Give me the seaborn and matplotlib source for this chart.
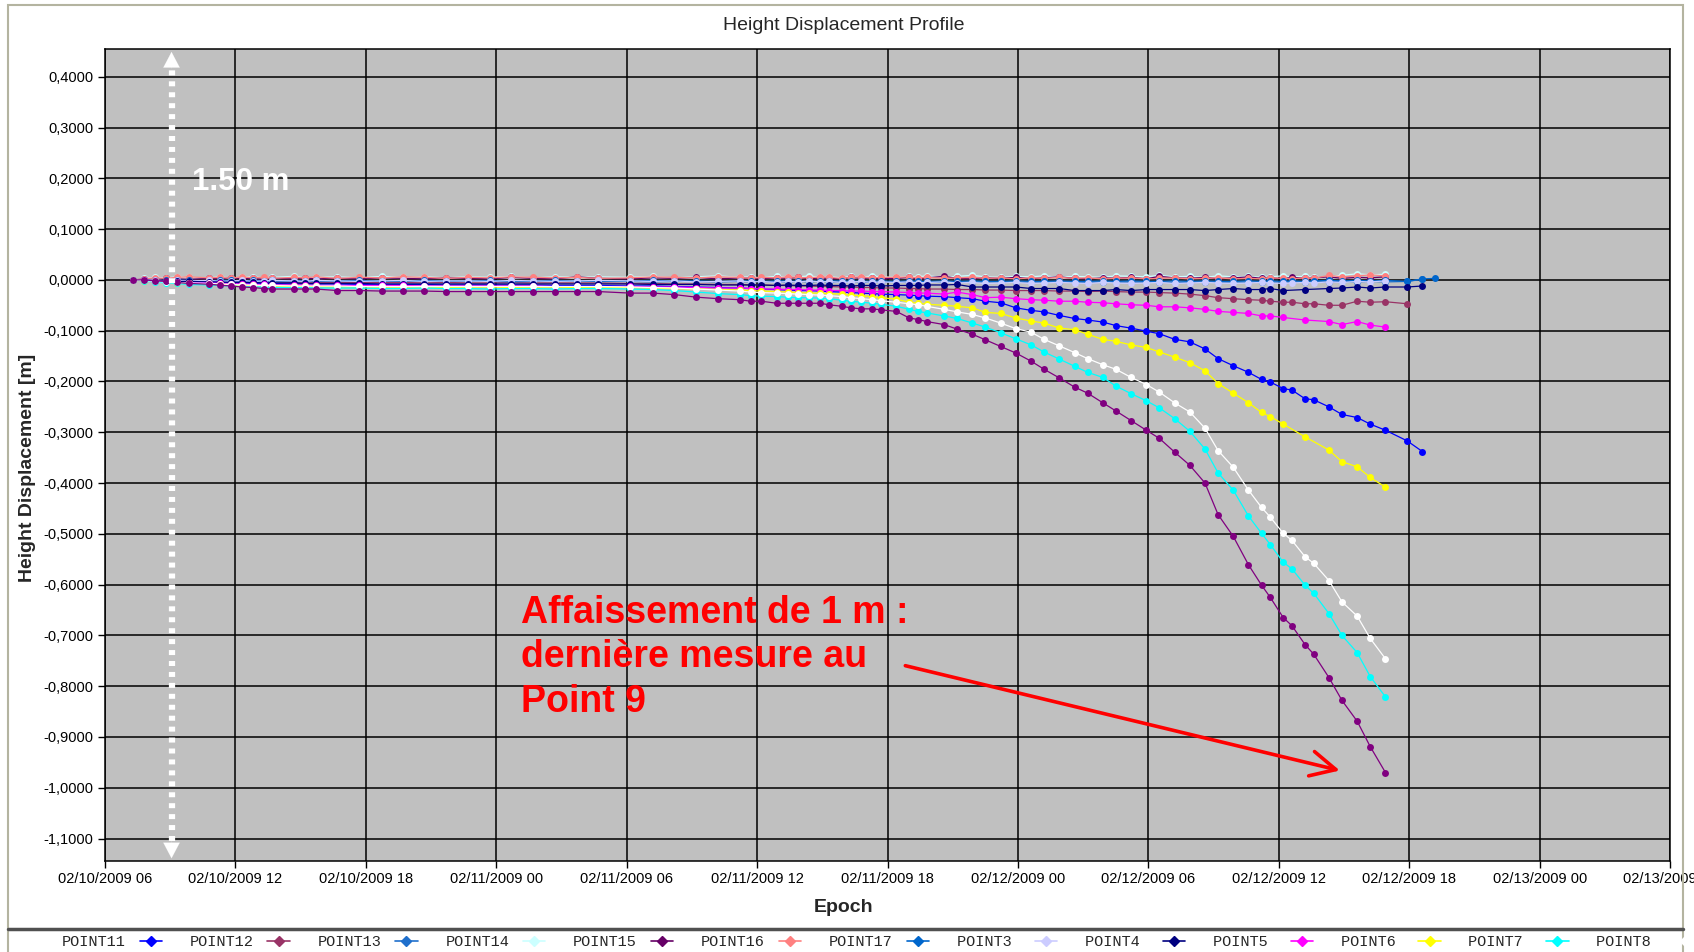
import numpy as np
import pandas as pd
import matplotlib
matplotlib.use("Agg")
import matplotlib.pyplot as plt
import matplotlib.dates as mdates
from matplotlib.lines import Line2D
from matplotlib.patches import Rectangle
from matplotlib.ticker import FuncFormatter
import seaborn as sns

nan = np.nan

# epochs (month/day hour:minute, 2009)
epoch = ["02/10 07:18", "02/10 07:48", "02/10 08:18", "02/10 08:48", "02/10 09:18", "02/10 09:51",
         "02/10 10:48", "02/10 11:18", "02/10 11:48", "02/10 12:18", "02/10 12:48", "02/10 13:18",
         "02/10 13:42", "02/10 14:42", "02/10 15:12", "02/10 15:42", "02/10 16:42", "02/10 17:42",
         "02/10 18:45", "02/10 19:42", "02/10 20:42", "02/10 21:42", "02/10 22:42", "02/10 23:42",
         "02/11 00:42", "02/11 01:42", "02/11 02:42", "02/11 03:42", "02/11 04:42",
         "02/11 06:09", "02/11 07:12", "02/11 08:12", "02/11 09:12", "02/11 10:12", "02/11 11:12",
         "02/11 11:42", "02/11 12:12", "02/11 12:54", "02/11 13:24", "02/11 13:54", "02/11 14:24",
         "02/11 14:54", "02/11 15:18", "02/11 15:54", "02/11 16:18", "02/11 16:48", "02/11 17:18",
         "02/11 17:42",
         "02/11 18:24", "02/11 19:00", "02/11 19:24", "02/11 19:48", "02/11 20:36", "02/11 21:12",
         "02/11 21:54", "02/11 22:30", "02/11 23:12", "02/11 23:54", "02/12 00:36", "02/12 01:12",
         "02/12 01:54", "02/12 02:36", "02/12 03:12", "02/12 03:54", "02/12 04:30", "02/12 05:12",
         "02/12 05:54", "02/12 06:30", "02/12 07:12", "02/12 07:54", "02/12 08:36", "02/12 09:12",
         "02/12 09:54", "02/12 10:36", "02/12 11:12", "02/12 11:36", "02/12 12:12", "02/12 12:36",
         "02/12 13:12", "02/12 13:36", "02/12 14:18", "02/12 14:54", "02/12 15:36", "02/12 16:12",
         "02/12 16:54",
         "02/12 17:54", "02/12 18:36", "02/12 19:12"]

# height displacement [m] per point
point11 = [0.000, -0.001, -0.002, -0.003, -0.004, -0.004, -0.005, -0.005, -0.006, -0.006, -0.007, -0.007,
           -0.007, -0.008, -0.008, -0.008, -0.008, -0.009, -0.009, -0.009, -0.009, -0.010, -0.010, -0.010,
           -0.010, -0.010, -0.011, -0.011, -0.011,
           -0.012, -0.012, -0.013, -0.014, -0.015, -0.016, -0.017, -0.018, -0.019, -0.020, -0.021, -0.021,
           -0.022, -0.023, -0.024, -0.025, -0.026, -0.027, -0.028,
           -0.029, -0.030, -0.031, -0.032, -0.033, -0.035, -0.037, -0.042, -0.045, -0.055, -0.060, -0.063,
           -0.070, -0.076, -0.079, -0.083, -0.090, -0.095, -0.101, -0.106, -0.117, -0.122, -0.136, -0.155,
           -0.169, -0.182, -0.196, -0.201, -0.214, -0.217, -0.234, -0.236, -0.250, -0.265, -0.271, -0.284,
           -0.296,
           -0.317, -0.338, nan]
point12 = [0.000, 0.000, -0.001, -0.001, -0.002, -0.002, -0.003, -0.003, -0.003, -0.004, -0.004, -0.004,
           -0.004, -0.005, -0.004, -0.005, -0.005, -0.005, -0.005, -0.005, -0.006, -0.005, -0.006, -0.006,
           -0.005, -0.006, -0.006, -0.006, -0.006,
           -0.007, -0.007, -0.008, -0.008, -0.009, -0.009, -0.010, -0.010, -0.011, -0.011, -0.012, -0.012,
           -0.013, -0.013, -0.014, -0.014, -0.015, -0.015, -0.016,
           -0.016, -0.017, -0.017, -0.018, -0.018, -0.019, -0.019, -0.020, -0.020, -0.021, -0.021, -0.021,
           -0.022, -0.022, -0.023, -0.022, -0.023, -0.024, -0.024, -0.025, -0.026, -0.028, -0.031, -0.035,
           -0.037, -0.039, -0.040, -0.042, -0.044, -0.044, -0.047, -0.047, -0.050, -0.050, -0.042, -0.044,
           -0.043,
           -0.047, nan, nan]
point13 = [0.000, -0.001, -0.001, -0.002, -0.002, -0.001, -0.002, -0.003, -0.002, -0.002, -0.003, -0.002,
           -0.003, -0.002, -0.003, -0.003, -0.002, -0.003, -0.003, -0.002, -0.003, -0.003, -0.002, -0.003,
           -0.004, -0.003, -0.003, -0.002, -0.003,
           -0.003, -0.004, -0.003, -0.003, -0.004, -0.003, -0.004, -0.003, -0.004, -0.004, -0.003, -0.004,
           -0.003, -0.004, -0.004, -0.003, -0.004, -0.005, -0.004,
           -0.004, -0.005, -0.004, -0.004, -0.005, -0.004, -0.005, -0.004, -0.004, -0.005, -0.004, -0.005,
           -0.004, -0.005, -0.005, -0.004, -0.005, -0.004, -0.005, -0.004, -0.005, -0.005, -0.004, -0.005,
           -0.004, -0.005, -0.004, -0.005, -0.004, -0.004, -0.005, -0.004, -0.004, -0.003, -0.004, -0.003,
           -0.004,
           -0.003, 0.001, nan]
point14 = [0.000, 0.003, 0.005, 0.004, 0.006, 0.005, 0.004, 0.006, 0.003, 0.005, 0.006, 0.004,
           0.005, 0.007, 0.004, 0.005, 0.006, 0.004, 0.007, 0.005, 0.006, 0.004, 0.006, 0.005,
           0.007, 0.004, 0.006, 0.005, 0.006,
           0.005, 0.007, 0.004, 0.006, 0.008, 0.005, 0.006, 0.004, 0.007, 0.005, 0.006, 0.008,
           0.005, 0.006, 0.004, 0.007, 0.005, 0.008, 0.006,
           0.005, 0.007, 0.006, 0.008, 0.005, 0.007, 0.009, 0.006, 0.005, 0.007, 0.006, 0.008,
           0.005, 0.007, 0.006, 0.005, 0.008, 0.007, 0.006, 0.009, 0.006, 0.007, 0.005, 0.008,
           0.006, 0.007, 0.005, 0.006, 0.008, 0.006, 0.007, 0.005, 0.006, 0.009, 0.012, 0.010,
           0.011,
           nan, nan, nan]
point15 = [0.000, 0.002, 0.001, 0.003, 0.002, 0.001, 0.003, 0.002, 0.004, 0.002, 0.003, 0.001,
           0.003, 0.002, 0.004, 0.002, 0.003, 0.002, 0.004, 0.003, 0.002, 0.004, 0.003, 0.002,
           0.005, 0.003, 0.002, 0.006, 0.003,
           0.002, 0.004, 0.003, 0.005, 0.002, 0.004, 0.003, 0.002, 0.004, 0.003, 0.005, 0.002,
           0.004, 0.003, 0.002, 0.005, 0.003, 0.004, 0.002,
           0.003, 0.005, 0.002, 0.004, 0.007, 0.003, 0.002, 0.004, 0.003, 0.005, 0.002, 0.004,
           0.006, 0.003, 0.002, 0.004, 0.003, 0.005, 0.002, 0.007, 0.004, 0.003, 0.005, 0.002,
           0.004, 0.006, 0.003, 0.004, 0.002, 0.005, 0.003, 0.004, 0.006, 0.003, 0.005, 0.004,
           0.006,
           nan, nan, nan]
point16 = [0.000, 0.002, 0.004, 0.003, 0.005, 0.006, 0.004, 0.005, 0.003, 0.006, 0.004, 0.005,
           0.003, 0.005, 0.004, 0.006, 0.003, 0.005, 0.004, 0.006, 0.005, 0.003, 0.005, 0.004,
           0.006, 0.005, 0.004, 0.005, 0.003,
           0.004, 0.006, 0.005, 0.004, 0.006, 0.005, 0.003, 0.005, 0.004, 0.006, 0.005, 0.004,
           0.006, 0.005, 0.003, 0.005, 0.006, 0.004, 0.005,
           0.005, 0.006, 0.004, 0.005, 0.003, 0.004, 0.005, 0.003, 0.004, 0.002, 0.004, 0.003,
           0.005, 0.003, 0.004, 0.002, 0.003, 0.004, 0.002, 0.003, 0.004, 0.002, 0.003, 0.004,
           0.002, 0.003, 0.002, 0.004, 0.003, 0.002, 0.004, 0.003, 0.009, 0.006, 0.008, 0.010,
           0.008,
           nan, nan, nan]
point17 = [0.000, 0.000, -0.001, -0.001, 0.000, -0.001, -0.002, -0.001, -0.001, -0.002, -0.001, -0.002,
           -0.001, -0.002, -0.002, -0.001, -0.002, -0.001, -0.002, -0.002, -0.001, -0.002, -0.002, -0.001,
           -0.002, -0.002, -0.001, -0.002, -0.002,
           -0.002, -0.001, -0.002, -0.002, -0.003, -0.002, -0.002, -0.003, -0.002, -0.002, -0.003, -0.002,
           -0.003, -0.002, -0.002, -0.003, -0.002, -0.003, -0.002,
           -0.003, -0.002, -0.003, -0.003, -0.002, -0.003, -0.002, -0.003, -0.003, -0.002, -0.003, -0.003,
           -0.002, -0.003, -0.003, -0.002, -0.003, -0.002, -0.003, -0.003, -0.002, -0.003, -0.002, -0.003,
           -0.003, -0.002, -0.003, -0.002, -0.003, -0.002, -0.003, -0.002, -0.001, -0.002, -0.001, -0.002,
           -0.001,
           -0.003, 0.002, 0.003]
point3 = [0.000, -0.001, 0.000, -0.002, -0.001, -0.002, -0.001, -0.003, -0.002, -0.001, -0.003, -0.002,
          -0.001, -0.002, -0.003, -0.001, -0.002, -0.003, -0.002, -0.001, -0.003, -0.002, -0.002, -0.003,
          -0.001, -0.002, -0.003, -0.002, -0.001,
          -0.002, -0.003, -0.002, -0.004, -0.003, -0.002, -0.004, -0.003, -0.005, -0.003, -0.004, -0.002,
          -0.004, -0.003, -0.005, -0.004, -0.003, -0.005, -0.004,
          -0.005, -0.004, -0.006, -0.005, -0.004, -0.006, -0.005, -0.007, -0.006, -0.005, -0.007, -0.006,
          -0.005, -0.006, -0.007, -0.005, -0.006, -0.007, -0.006, -0.005, -0.007, -0.006, -0.005, -0.006,
          -0.007, -0.006, -0.005, -0.006, -0.007, -0.006, -0.005, -0.006, -0.004, -0.005, -0.003, -0.004,
          -0.002,
          nan, nan, nan]
point4 = [0.000, -0.001, -0.002, -0.002, -0.003, -0.003, -0.004, -0.004, -0.005, -0.005, -0.005, -0.006,
          -0.006, -0.006, -0.007, -0.007, -0.007, -0.007, -0.008, -0.008, -0.008, -0.008, -0.008, -0.008,
          -0.008, -0.008, -0.008, -0.008, -0.008,
          -0.008, -0.009, -0.009, -0.009, -0.010, -0.010, -0.010, -0.010, -0.011, -0.010, -0.011, -0.011,
          -0.010, -0.011, -0.011, -0.012, -0.011, -0.011, -0.012,
          -0.011, -0.011, -0.011, -0.010, -0.010, -0.009, -0.014, -0.014, -0.014, -0.014, -0.017, -0.017,
          -0.017, -0.021, -0.021, -0.021, -0.019, -0.021, -0.019, -0.019, -0.019, -0.019, -0.021, -0.019,
          -0.017, -0.019, -0.019, -0.017, -0.021, nan, -0.019, nan, -0.017, -0.016, -0.014, -0.016,
          -0.014,
          -0.014, -0.012, nan]
point5 = [0.000, -0.001, -0.002, -0.004, -0.005, -0.006, -0.006, -0.007, -0.008, -0.008, -0.009, -0.009,
          -0.010, -0.010, -0.010, -0.011, -0.011, -0.011, -0.011, -0.011, -0.012, -0.012, -0.012, -0.012,
          -0.012, -0.012, -0.013, -0.013, -0.013,
          -0.013, -0.014, -0.014, -0.015, -0.016, -0.016, -0.017, -0.018, -0.018, -0.019, -0.019, -0.020,
          -0.020, -0.021, -0.021, -0.022, -0.022, -0.023, -0.023,
          -0.024, -0.025, -0.026, -0.026, -0.028, -0.024, -0.029, -0.035, -0.034, -0.037, -0.039, -0.040,
          -0.042, -0.042, -0.044, -0.045, -0.047, -0.049, -0.050, -0.053, -0.053, -0.055, -0.058, -0.062,
          -0.064, -0.066, -0.071, -0.071, -0.074, nan, -0.079, nan, -0.082, -0.088, -0.082, -0.089,
          -0.093,
          nan, nan, nan]
point6 = [0.000, -0.002, -0.003, -0.005, -0.006, -0.007, -0.008, -0.009, -0.010, -0.011, -0.011, -0.012,
          -0.012, -0.013, -0.013, -0.013, -0.014, -0.014, -0.014, -0.014, -0.014, -0.015, -0.014, -0.014,
          -0.015, -0.014, -0.014, -0.015, -0.014,
          -0.015, -0.016, -0.017, -0.018, -0.019, -0.020, -0.021, -0.022, -0.023, -0.024, -0.025, -0.026,
          -0.026, -0.027, -0.028, -0.030, -0.031, -0.033, -0.035,
          -0.038, -0.044, -0.046, -0.048, -0.050, -0.052, -0.055, -0.064, -0.066, -0.075, -0.081, -0.085,
          -0.095, -0.098, -0.107, -0.117, -0.121, -0.128, -0.133, -0.142, -0.152, -0.163, -0.179, -0.204,
          -0.223, -0.242, -0.261, -0.269, -0.284, nan, -0.309, nan, -0.335, -0.358, -0.368, -0.389,
          -0.408,
          nan, nan, nan]
point7 = [0.000, -0.002, -0.004, -0.006, -0.007, -0.009, -0.010, -0.011, -0.012, -0.013, -0.014, -0.014,
          -0.015, -0.015, -0.015, -0.016, -0.016, -0.016, -0.017, -0.017, -0.016, -0.017, -0.017, -0.018,
          -0.017, -0.017, -0.018, -0.017, -0.017,
          -0.018, -0.019, -0.021, -0.024, -0.027, -0.029, -0.031, -0.032, -0.033, -0.034, -0.035, -0.035,
          -0.036, -0.037, -0.040, -0.042, -0.044, -0.046, -0.048,
          -0.052, -0.058, -0.062, -0.065, -0.071, -0.076, -0.085, -0.093, -0.104, -0.116, -0.128, -0.142,
          -0.156, -0.170, -0.182, -0.192, -0.209, -0.224, -0.238, -0.252, -0.273, -0.298, -0.333, -0.380,
          -0.414, -0.465, -0.499, -0.521, -0.556, -0.569, -0.601, -0.617, -0.657, -0.700, -0.734, -0.781,
          -0.821,
          nan, nan, nan]
point8 = [0.000, -0.001, -0.003, -0.004, -0.005, -0.006, -0.007, -0.008, -0.009, -0.010, -0.010, -0.011,
          -0.011, -0.012, -0.012, -0.012, -0.012, -0.013, -0.013, -0.013, -0.013, -0.013, -0.013, -0.013,
          -0.013, -0.013, -0.013, -0.013, -0.013,
          -0.014, -0.015, -0.016, -0.018, -0.020, -0.022, -0.024, -0.025, -0.026, -0.027, -0.028, -0.029,
          -0.030, -0.031, -0.033, -0.035, -0.037, -0.039, -0.041,
          -0.044, -0.047, -0.049, -0.052, -0.058, -0.063, -0.068, -0.075, -0.085, -0.096, -0.103, -0.117,
          -0.130, -0.143, -0.155, -0.167, -0.176, -0.192, -0.206, -0.221, -0.242, -0.260, -0.292, -0.336,
          -0.369, -0.414, -0.448, -0.467, -0.499, -0.513, -0.545, -0.558, -0.592, -0.634, -0.662, -0.706,
          -0.746,
          nan, nan, nan]
point9 = [0.000, 0.000, -0.002, -0.003, -0.005, -0.007, -0.0085, -0.0105, -0.012, -0.014, -0.015, -0.017,
          -0.018, -0.018, -0.018, -0.018, -0.021, -0.021, -0.022, -0.022, -0.022, -0.023, -0.023, -0.023,
          -0.023, -0.023, -0.023, -0.023, -0.023,
          -0.026, -0.026, -0.029, -0.034, -0.037, -0.039, -0.042, -0.042, -0.046, -0.046, -0.046, -0.046,
          -0.046, -0.049, -0.052, -0.055, -0.057, -0.057, -0.059,
          -0.062, -0.075, -0.078, -0.082, -0.088, -0.097, -0.107, -0.118, -0.131, -0.144, -0.160, -0.176,
          -0.193, -0.211, -0.223, -0.242, -0.258, -0.277, -0.296, -0.312, -0.339, -0.365, -0.400, -0.462,
          -0.505, -0.561, -0.601, -0.625, -0.665, -0.681, -0.718, -0.737, -0.783, -0.828, -0.869, -0.919,
          -0.970,
          nan, nan, nan]

points = ["POINT11", "POINT12", "POINT13", "POINT14", "POINT15", "POINT16", "POINT17",
          "POINT3", "POINT4", "POINT5", "POINT6", "POINT7", "POINT8", "POINT9"]
colors = ["#0000FF", "#993366", "#1F6FCC", "#CCFFFF", "#660066", "#FF8080", "#0066CC",
          "#CCCCFF", "#000080", "#FF00FF", "#FFFF00", "#00FFFF", "#FFFFFF", "#800080"]
legend_points = points[:13]

times = pd.to_datetime(["2009/" + e for e in epoch], format="%Y/%m/%d %H:%M")
wide = pd.DataFrame({"POINT11": point11, "POINT12": point12, "POINT13": point13, "POINT14": point14,
                     "POINT15": point15, "POINT16": point16, "POINT17": point17, "POINT3": point3,
                     "POINT4": point4, "POINT5": point5, "POINT6": point6, "POINT7": point7,
                     "POINT8": point8, "POINT9": point9}, index=times)
wide.index.name = "Epoch"
dados = wide.reset_index().melt(id_vars="Epoch", var_name="Point", value_name="Height").dropna()

sns.set_theme(style="ticks")
plt.rcParams["font.family"] = ["Liberation Sans", "DejaVu Sans"]

fig = plt.figure(figsize=(16.94, 9.52), dpi=100)
fig.patch.set_facecolor("white")
ax = fig.add_axes([0.0619, 0.0953, 0.9241, 0.8536])
ax.set_facecolor("#C0C0C0")

sns.lineplot(data=dados, x="Epoch", y="Height", hue="Point", hue_order=points,
             palette=dict(zip(points, colors)), marker="o", markersize=5, markeredgewidth=0,
             linewidth=0.9, estimator=None, sort=False, legend=False, ax=ax)

# axes
ax.set_xlim(pd.Timestamp("2009-02-10 06:00"), pd.Timestamp("2009-02-13 06:00"))
ax.xaxis.set_major_locator(mdates.HourLocator(byhour=[0, 6, 12, 18]))
ax.xaxis.set_major_formatter(mdates.DateFormatter("%m/%d/%Y %H"))
ax.set_ylim(-1.1447, 0.4553)
ax.set_yticks(np.arange(-11, 5) / 10)
ax.yaxis.set_major_formatter(FuncFormatter(lambda v, p: f"{v:.4f}".replace(".", ",")))
ax.grid(True, color="black", linewidth=1.1)
ax.tick_params(direction="out", length=5, width=1, color="black", labelsize=10.5,
               labelcolor="black", pad=3)
for s in ax.spines.values():
    s.set_color("black")
    s.set_linewidth(1.1)
ax.set_xlabel("")
ax.set_ylabel("")

fig.text(0.498, 0.9728, "Height Displacement Profile", ha="center", va="center", fontsize=14)
fig.text(0.498, 0.0465, "Epoch", ha="center", va="center", fontsize=14, fontweight="bold")
fig.text(0.016, 0.509, "Height Displacement [m]", ha="center", va="center", rotation=90,
         fontsize=14, fontweight="bold")

# white dashed 1.50 m double arrow
arrow_x = mdates.date2num(pd.Timestamp("2009-02-10 09:04"))
ax.plot([arrow_x, arrow_x], [-1.105, 0.417], color="white", lw=4.5, ls=(0, (0.8, 0.95)),
        solid_capstyle="butt")
ax.annotate("", xy=(arrow_x, 0.449), xytext=(arrow_x, 0.416),
            arrowprops=dict(arrowstyle="-|>,head_length=0.8,head_width=0.42", color="white",
                            lw=0.1, shrinkA=0, shrinkB=0, mutation_scale=14))
ax.annotate("", xy=(arrow_x, -1.139), xytext=(arrow_x, -1.104),
            arrowprops=dict(arrowstyle="-|>,head_length=0.8,head_width=0.42", color="white",
                            lw=0.1, shrinkA=0, shrinkB=0, mutation_scale=14))
ax.text(mdates.date2num(pd.Timestamp("2009-02-10 10:01")), 0.1936, "1.50 m", color="white",
        fontsize=22.5, fontweight="bold", ha="left", va="center")

# red annotation
ax.text(mdates.date2num(pd.Timestamp("2009-02-11 01:08")), -0.620,
        "Affaissement de 1 m :\ndernière mesure au\nPoint 9", color="#FF0000",
        fontsize=27, fontweight="bold", ha="left", va="top", linespacing=1.3)
ax.annotate("", xy=(mdates.date2num(pd.Timestamp("2009-02-12 14:48")), -0.966),
            xytext=(mdates.date2num(pd.Timestamp("2009-02-11 18:49")), -0.7596),
            arrowprops=dict(arrowstyle="->,head_length=0.9,head_width=0.45", color="#FF0000",
                            lw=2.6, shrinkA=0, shrinkB=0, mutation_scale=20))

# outer frame and legend separator
fig.add_artist(Rectangle((0.0045, -0.05), 0.9891, 1.0443, transform=fig.transFigure,
                         facecolor="none", edgecolor="#B4B4A0", lw=1.5))
fig.add_artist(Line2D([0.0045, 0.9936], [0.0238, 0.0238], transform=fig.transFigure,
                      color="#505050", lw=2.5))

handles = [Line2D([], [], color=c, marker="D", markersize=5, lw=1.2)
           for c in colors[:13]]
labels = [f"{p:<7}" for p in legend_points]
fig.legend(handles, labels, loc="center left", bbox_to_anchor=(0.0364, 0.0102), ncol=13,
           markerfirst=False, frameon=False, prop={"family": "Liberation Mono", "size": 11},
           handlelength=1.45, handletextpad=0.92, columnspacing=1.82, borderpad=0,
           borderaxespad=0)

fig.savefig("out.png", dpi=100)
